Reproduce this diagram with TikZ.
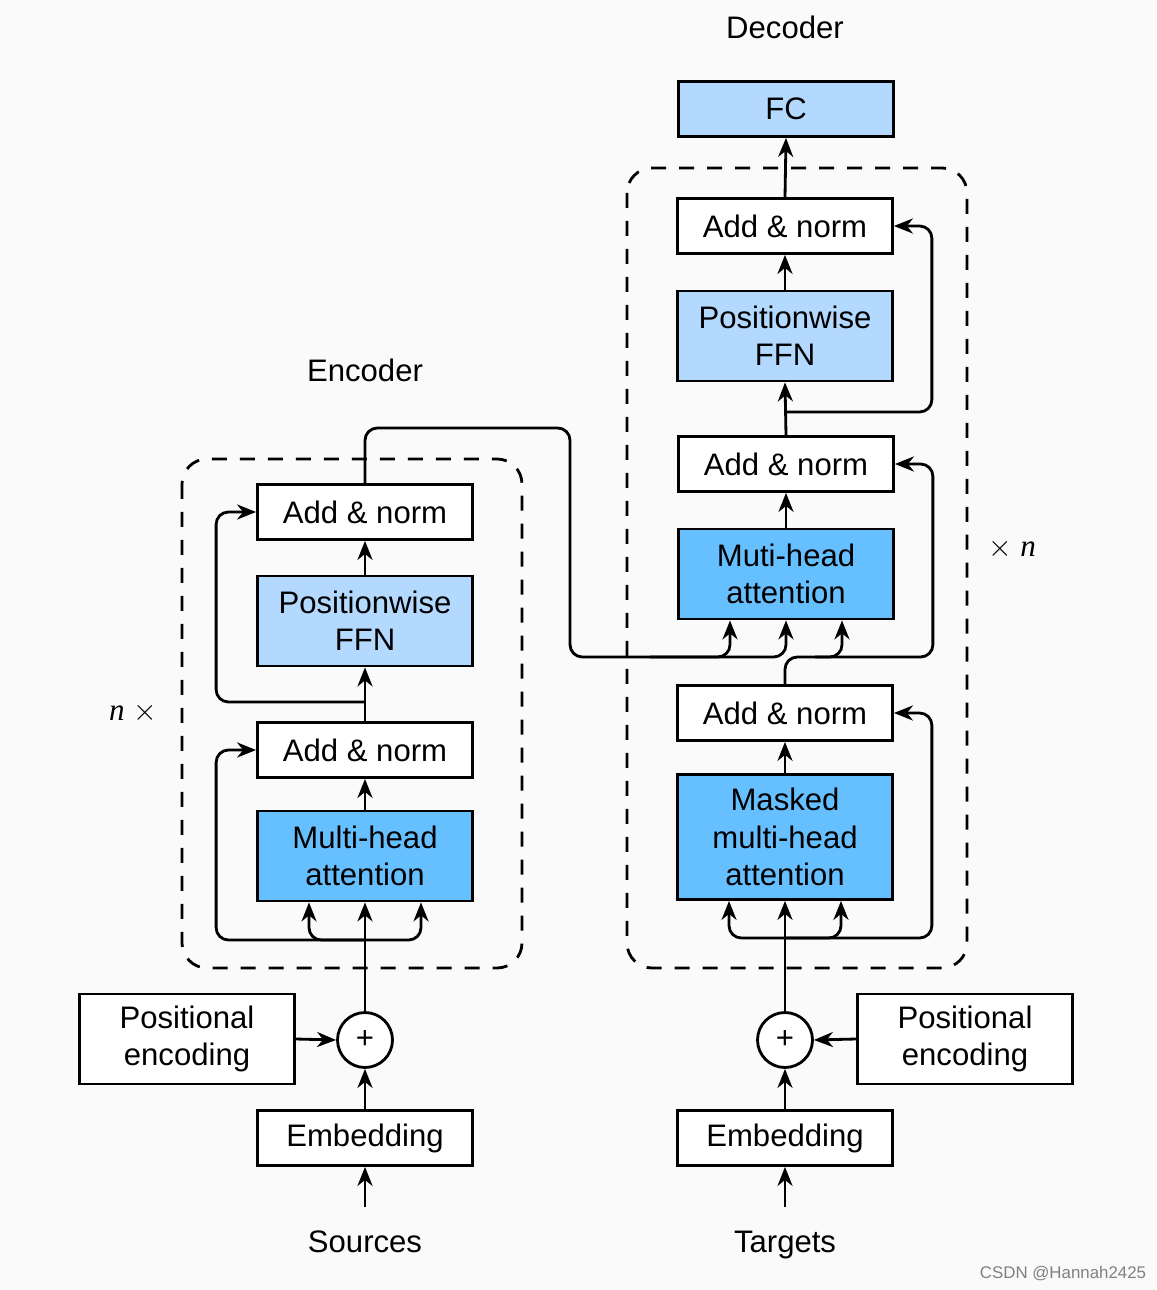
\documentclass[tikz,border=0pt]{standalone}
\usepackage{fontspec}
\setmainfont{Liberation Sans}
\newfontfamily\timesit{Liberation Serif}
\usepackage{tikz}
\usetikzlibrary{arrows.meta,positioning}

\definecolor{ffnblue}{RGB}{179,217,255}
\definecolor{attnblue}{RGB}{102,191,255}
\definecolor{bggray}{RGB}{250,250,250}

\tikzset{
	box/.style = {draw, fill=white, minimum width=4.3cm, minimum height=1.1cm, align=center, inner sep=0pt},
	ffn/.style = {box, fill=ffnblue, minimum height=1.8cm},
	attn/.style = {box, fill=attnblue, minimum height=1.8cm},
	addop/.style = {draw, circle, fill=white, minimum size=1.1cm, inner sep=0pt},
	stack/.style = {-, dash pattern=on 0.3cm off 0.26cm, rounded corners=0.5cm},
}

\begin{document}
\begin{tikzpicture}[->,>={Stealth[length=0.38cm,width=0.3cm,inset=0.12cm]}, x=0.02cm, y=-0.02cm, line width=1.6pt]
\tikzstyle{every node} = [font = \fontsize{17.7}{21.2}\selectfont]
	\fill[-, bggray] (0,0) rectangle (1156,1290);
	\useasboundingbox (0,0) rectangle (1156,1290);

	% encoder
	\node (encTitle) at (365,370) {Encoder};
	\node (encTimes) at (133,713) {{\timesit\itshape n} $\times$};
	\draw[stack] (182,459) rectangle (522,968);
	\node [box]  (encAddT) at (365,512) {Add \& norm};
	\node [ffn]  (encFFN)  at (365,621) {Positionwise\\FFN};
	\node [box]  (encAdd)  at (365,750) {Add \& norm};
	\node [attn] (encAttn) at (365,856) {Multi-head\\attention};
	\node [addop] (encPlus) at (365,1040) {+};
	\node [box, minimum height=1.8cm] (encPos) at (187,1039) {Positional\\encoding};
	\node [box]  (encEmb)  at (365,1138) {Embedding};
	\node [anchor=base] (src) at (365,1252) {Sources};

	% decoder
	\node (decTitle) at (785,27) {Decoder};
	\node (decTimes) at (1012,549) {$\times$ {\timesit\itshape n}};
	\draw[stack] (627,168) rectangle (967,968);
	\node [box, fill=ffnblue] (decFC) at (786,109) {FC};
	\node [box]  (decAddT) at (785,226) {Add \& norm};
	\node [ffn]  (decFFN)  at (785,336) {Positionwise\\FFN};
	\node [box]  (decAddM) at (786,464) {Add \& norm};
	\node [attn] (decAttn) at (786,574) {Muti-head\\attention};
	\node [box]  (decAdd)  at (785,713) {Add \& norm};
	\node [attn, minimum height=2.5cm] (decMasked) at (785,837) {Masked\\multi-head\\attention};
	\node [addop] (decPlus) at (785,1040) {+};
	\node [box, minimum height=1.8cm] (decPos) at (965,1039) {Positional\\encoding};
	\node [box]  (decEmb)  at (785,1138) {Embedding};
	\node [anchor=base] (tgt) at (785,1252) {Targets};

	\node [font=\fontsize{9.6}{11}\selectfont, text=gray] (mark) at (1063,1274) {CSDN @Hannah2425};

	% encoder wiring
	\coordinate (srcIn) at (365,1207);
	\draw (srcIn) -- (encEmb.south);
	\draw (encEmb.north) -- (encPlus.south);
	\draw (encPos.east) -- (encPlus.west);
	\draw (encPlus.north) -- (encAttn.south);
	\coordinate (encSplit) at (365,940);
	\draw[rounded corners=7pt] (encSplit) -| ([xshift=-1.12cm]encAttn.south);
	\draw[rounded corners=7pt] (encSplit) -| ([xshift=1.12cm]encAttn.south);
	\draw[rounded corners=7pt] (encSplit) -| ([xshift=-0.8cm]encAdd.west) -- (encAdd.west);
	\draw (encAttn.north) -- (encAdd.south);
	\draw (encAdd.north) -- (encFFN.south);
	\coordinate (encSplitT) at (365,702);
	\draw[rounded corners=7pt] (encSplitT) -| ([xshift=-0.8cm]encAddT.west) -- (encAddT.west);
	\draw (encFFN.north) -- (encAddT.south);

	% encoder to decoder
	\coordinate (crossTurn) at (570,428);
	\coordinate (crossLow) at (570,657);
	\coordinate (crossMid) at (650,657);
	\draw[rounded corners=7pt] (encAddT.north) |- (crossTurn) -- (crossLow) -| ([xshift=-1.12cm]decAttn.south);
	\draw[rounded corners=7pt] (crossMid) -| (decAttn.south);

	% decoder wiring
	\coordinate (tgtIn) at (785,1207);
	\draw (tgtIn) -- (decEmb.south);
	\draw (decEmb.north) -- (decPlus.south);
	\draw (decPos.west) -- (decPlus.east);
	\draw (decPlus.north) -- (decMasked.south);
	\coordinate (decSplit) at (785,938);
	\draw[rounded corners=7pt] (decSplit) -| ([xshift=-1.12cm]decMasked.south);
	\draw[rounded corners=7pt] (decSplit) -| ([xshift=1.12cm]decMasked.south);
	\draw[rounded corners=7pt] (decSplit) -| ([xshift=0.76cm]decAdd.east) -- (decAdd.east);
	\draw (decMasked.north) -- (decAdd.south);
	\coordinate (decSplitM) at (785,657);
	\coordinate (decJoin) at (815,657);
	\draw[rounded corners=7pt] (decAdd.north) -- (decSplitM) -| ([xshift=1.12cm]decAttn.south);
	\draw[rounded corners=7pt] (decJoin) -| ([xshift=0.76cm]decAddM.east) -- (decAddM.east);
	\draw (decAttn.north) -- (decAddM.south);
	\draw (decAddM.north) -- (decFFN.south);
	\coordinate (decSplitT) at (785,412);
	\draw[rounded corners=7pt] (decSplitT) -| ([xshift=0.76cm]decAddT.east) -- (decAddT.east);
	\draw (decFFN.north) -- (decAddT.south);
	\draw (decAddT.north) -- (decFC.south);
\end{tikzpicture}
\end{document}
